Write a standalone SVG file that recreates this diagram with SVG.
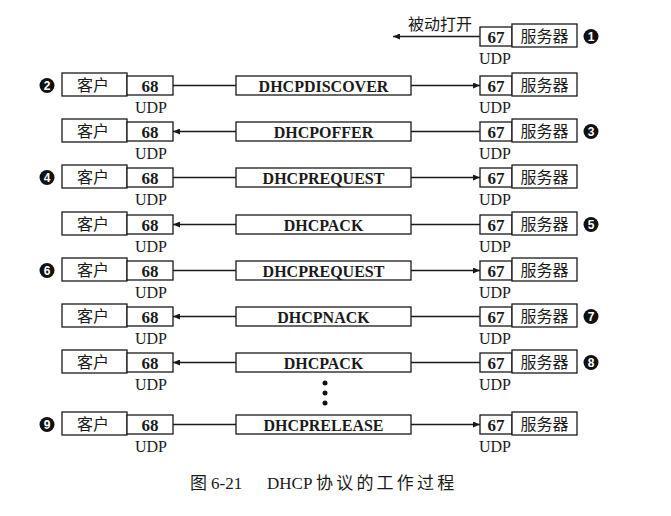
<svg xmlns="http://www.w3.org/2000/svg" width="671" height="516" viewBox="0 0 671 516">
<style>
.bx{fill:#fff;stroke:#1a1a1a;stroke-width:1.3}
.ln{fill:none;stroke:#1a1a1a;stroke-width:1.3}
.cn{font-family:"Noto Sans CJK SC",sans-serif;font-size:16px;fill:#1a1a1a;text-anchor:middle}
.pt{font-family:"Liberation Serif","Times New Roman",serif;font-size:17px;font-weight:bold;fill:#1a1a1a;text-anchor:middle}
.ud{font-family:"Liberation Serif","Times New Roman",serif;font-size:16px;fill:#1a1a1a;text-anchor:middle}
.ms{font-family:"Liberation Serif","Times New Roman",serif;font-size:16px;font-weight:bold;fill:#1a1a1a;text-anchor:middle}
.dg{font-family:"Liberation Sans",Arial,sans-serif;font-size:12px;font-weight:bold;fill:#fff;text-anchor:middle}
.cap{font-size:17px;fill:#1a1a1a}
</style>
<defs>
<marker id="ah" markerUnits="userSpaceOnUse" markerWidth="8" markerHeight="6" refX="7" refY="3" orient="auto">
<path d="M0,0 L7,3 L0,6 z" fill="#1a1a1a"/>
</marker>
</defs>

<!-- Row 1 -->
<g id="server1-port"><rect class="bx" x="480" y="27" width="32" height="19"/><text class="pt" x="496" y="42.5">67</text><text class="ud" x="495" y="64">UDP</text></g>
<g id="server1"><rect class="bx" x="512" y="24" width="65" height="23"/><text class="cn" x="544.5" y="42">服务器</text></g>
<g id="passive-open"><text class="cn" x="440" y="30">被动打开</text></g>
<g id="step1"><circle cx="591" cy="36.5" r="7.5" fill="#111"/><text class="dg" x="591" y="40.8">1</text></g>

<!-- Row 2 -->
<g id="client2"><rect class="bx" x="62" y="73" width="65" height="23"/><text class="cn" x="93" y="91">客户</text></g>
<g id="client2-port"><rect class="bx" x="127" y="76" width="46" height="19"/><text class="pt" x="150" y="91.5">68</text><text class="ud" x="151" y="113">UDP</text></g>
<g id="msg2"><rect class="bx" x="236" y="76" width="175" height="19"/><text class="ms" x="323.5" y="91.5">DHCPDISCOVER</text></g>
<g id="server2-port"><rect class="bx" x="480" y="76" width="32" height="19"/><text class="pt" x="496" y="91.5">67</text><text class="ud" x="495" y="113">UDP</text></g>
<g id="server2"><rect class="bx" x="512" y="73" width="65" height="23"/><text class="cn" x="544.5" y="91">服务器</text></g>
<g id="step2"><circle cx="47" cy="85.5" r="7.5" fill="#111"/><text class="dg" x="47" y="89.8">2</text></g>

<!-- Row 3 -->
<g id="client3"><rect class="bx" x="62" y="119" width="65" height="23"/><text class="cn" x="93" y="137">客户</text></g>
<g id="client3-port"><rect class="bx" x="127" y="122" width="46" height="19"/><text class="pt" x="150" y="137.5">68</text><text class="ud" x="151" y="159">UDP</text></g>
<g id="msg3"><rect class="bx" x="236" y="122" width="175" height="19"/><text class="ms" x="323.5" y="137.5">DHCPOFFER</text></g>
<g id="server3-port"><rect class="bx" x="480" y="122" width="32" height="19"/><text class="pt" x="496" y="137.5">67</text><text class="ud" x="495" y="159">UDP</text></g>
<g id="server3"><rect class="bx" x="512" y="119" width="65" height="23"/><text class="cn" x="544.5" y="137">服务器</text></g>
<g id="step3"><circle cx="591" cy="131.5" r="7.5" fill="#111"/><text class="dg" x="591" y="135.8">3</text></g>

<!-- Row 4 -->
<g id="client4"><rect class="bx" x="62" y="165" width="65" height="23"/><text class="cn" x="93" y="183">客户</text></g>
<g id="client4-port"><rect class="bx" x="127" y="168" width="46" height="19"/><text class="pt" x="150" y="183.5">68</text><text class="ud" x="151" y="205">UDP</text></g>
<g id="msg4"><rect class="bx" x="236" y="168" width="175" height="19"/><text class="ms" x="323.5" y="183.5">DHCPREQUEST</text></g>
<g id="server4-port"><rect class="bx" x="480" y="168" width="32" height="19"/><text class="pt" x="496" y="183.5">67</text><text class="ud" x="495" y="205">UDP</text></g>
<g id="server4"><rect class="bx" x="512" y="165" width="65" height="23"/><text class="cn" x="544.5" y="183">服务器</text></g>
<g id="step4"><circle cx="47" cy="177.5" r="7.5" fill="#111"/><text class="dg" x="47" y="181.8">4</text></g>

<!-- Row 5 -->
<g id="client5"><rect class="bx" x="62" y="212" width="65" height="23"/><text class="cn" x="93" y="230">客户</text></g>
<g id="client5-port"><rect class="bx" x="127" y="215" width="46" height="19"/><text class="pt" x="150" y="230.5">68</text><text class="ud" x="151" y="252">UDP</text></g>
<g id="msg5"><rect class="bx" x="236" y="215" width="175" height="19"/><text class="ms" x="323.5" y="230.5">DHCPACK</text></g>
<g id="server5-port"><rect class="bx" x="480" y="215" width="32" height="19"/><text class="pt" x="496" y="230.5">67</text><text class="ud" x="495" y="252">UDP</text></g>
<g id="server5"><rect class="bx" x="512" y="212" width="65" height="23"/><text class="cn" x="544.5" y="230">服务器</text></g>
<g id="step5"><circle cx="591" cy="224.5" r="7.5" fill="#111"/><text class="dg" x="591" y="228.8">5</text></g>

<!-- Row 6 -->
<g id="client6"><rect class="bx" x="62" y="258" width="65" height="23"/><text class="cn" x="93" y="276">客户</text></g>
<g id="client6-port"><rect class="bx" x="127" y="261" width="46" height="19"/><text class="pt" x="150" y="276.5">68</text><text class="ud" x="151" y="298">UDP</text></g>
<g id="msg6"><rect class="bx" x="236" y="261" width="175" height="19"/><text class="ms" x="323.5" y="276.5">DHCPREQUEST</text></g>
<g id="server6-port"><rect class="bx" x="480" y="261" width="32" height="19"/><text class="pt" x="496" y="276.5">67</text><text class="ud" x="495" y="298">UDP</text></g>
<g id="server6"><rect class="bx" x="512" y="258" width="65" height="23"/><text class="cn" x="544.5" y="276">服务器</text></g>
<g id="step6"><circle cx="47" cy="270.5" r="7.5" fill="#111"/><text class="dg" x="47" y="274.8">6</text></g>

<!-- Row 7 -->
<g id="client7"><rect class="bx" x="62" y="304" width="65" height="23"/><text class="cn" x="93" y="322">客户</text></g>
<g id="client7-port"><rect class="bx" x="127" y="307" width="46" height="19"/><text class="pt" x="150" y="322.5">68</text><text class="ud" x="151" y="344">UDP</text></g>
<g id="msg7"><rect class="bx" x="236" y="307" width="175" height="19"/><text class="ms" x="323.5" y="322.5">DHCPNACK</text></g>
<g id="server7-port"><rect class="bx" x="480" y="307" width="32" height="19"/><text class="pt" x="496" y="322.5">67</text><text class="ud" x="495" y="344">UDP</text></g>
<g id="server7"><rect class="bx" x="512" y="304" width="65" height="23"/><text class="cn" x="544.5" y="322">服务器</text></g>
<g id="step7"><circle cx="591" cy="316.5" r="7.5" fill="#111"/><text class="dg" x="591" y="320.8">7</text></g>

<!-- Row 8 -->
<g id="client8"><rect class="bx" x="62" y="350" width="65" height="23"/><text class="cn" x="93" y="368">客户</text></g>
<g id="client8-port"><rect class="bx" x="127" y="353" width="46" height="19"/><text class="pt" x="150" y="368.5">68</text><text class="ud" x="151" y="390">UDP</text></g>
<g id="msg8"><rect class="bx" x="236" y="353" width="175" height="19"/><text class="ms" x="323.5" y="368.5">DHCPACK</text></g>
<g id="server8-port"><rect class="bx" x="480" y="353" width="32" height="19"/><text class="pt" x="496" y="368.5">67</text><text class="ud" x="495" y="390">UDP</text></g>
<g id="server8"><rect class="bx" x="512" y="350" width="65" height="23"/><text class="cn" x="544.5" y="368">服务器</text></g>
<g id="step8"><circle cx="591" cy="362.5" r="7.5" fill="#111"/><text class="dg" x="591" y="366.8">8</text></g>

<!-- ellipsis -->
<g id="ellipsis" fill="#111"><circle cx="325" cy="383" r="2.5"/><circle cx="325" cy="393" r="2.5"/><circle cx="325" cy="403" r="2.5"/></g>

<!-- Row 9 -->
<g id="client9"><rect class="bx" x="62" y="412" width="65" height="23"/><text class="cn" x="93" y="430">客户</text></g>
<g id="client9-port"><rect class="bx" x="127" y="415" width="46" height="19"/><text class="pt" x="150" y="430.5">68</text><text class="ud" x="151" y="452">UDP</text></g>
<g id="msg9"><rect class="bx" x="236" y="415" width="175" height="19"/><text class="ms" x="323.5" y="430.5">DHCPRELEASE</text></g>
<g id="server9-port"><rect class="bx" x="480" y="415" width="32" height="19"/><text class="pt" x="496" y="430.5">67</text><text class="ud" x="495" y="452">UDP</text></g>
<g id="server9"><rect class="bx" x="512" y="412" width="65" height="23"/><text class="cn" x="544.5" y="430">服务器</text></g>
<g id="step9"><circle cx="47" cy="424.5" r="7.5" fill="#111"/><text class="dg" x="47" y="428.8">9</text></g>

<!-- connectors -->
<g id="connectors">
<path class="ln" d="M480,36.5 H393" marker-end="url(#ah)"/>
<path class="ln" d="M173,85.5 H236"/><path class="ln" d="M411,85.5 H480" marker-end="url(#ah)"/>
<path class="ln" d="M480,131.5 H411"/><path class="ln" d="M236,131.5 H173" marker-end="url(#ah)"/>
<path class="ln" d="M173,177.5 H236"/><path class="ln" d="M411,177.5 H480" marker-end="url(#ah)"/>
<path class="ln" d="M480,224.5 H411"/><path class="ln" d="M236,224.5 H173" marker-end="url(#ah)"/>
<path class="ln" d="M173,270.5 H236"/><path class="ln" d="M411,270.5 H480" marker-end="url(#ah)"/>
<path class="ln" d="M480,316.5 H411"/><path class="ln" d="M236,316.5 H173" marker-end="url(#ah)"/>
<path class="ln" d="M480,362.5 H411"/><path class="ln" d="M236,362.5 H173" marker-end="url(#ah)"/>
<path class="ln" d="M173,424.5 H236"/><path class="ln" d="M411,424.5 H480" marker-end="url(#ah)"/>
</g>

<!-- caption -->
<g id="caption">
<text class="cap" x="190" y="489" font-family="'Noto Sans CJK SC',sans-serif">图</text>
<text class="cap" x="211" y="489" font-size="18" font-family="'Liberation Serif',serif">6-21</text>
<text class="cap" x="267" y="489" font-size="18" font-family="'Liberation Serif',serif">DHCP</text>
<text class="cap" x="316" y="489" font-family="'Noto Sans CJK SC',sans-serif" letter-spacing="3.2">协议的工作过程</text>
</g>
</svg>
